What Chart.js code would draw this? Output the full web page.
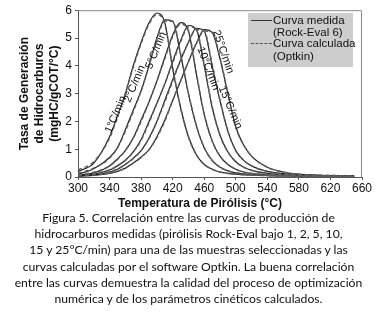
<!DOCTYPE html>
<html>
<head>
<meta charset="utf-8">
<script src="https://cdn.jsdelivr.net/npm/chart.js@4.4.0/dist/chart.umd.min.js"></script>
<style>
  body { margin: 0; background: #fff; width: 377px; height: 318px; overflow: hidden; position: relative; font-family: "Liberation Sans", Arial, sans-serif; }
  #wrap { position: absolute; left: 0; top: 0; width: 377px; height: 212px; }
  #legend { position: absolute; left: 248px; top: 13px; width: 105px; height: 54px; background: #cdcdcd; font-size: 11.5px; color: #111; }
  #legend .row { position: absolute; left: 25px; line-height: 13px; white-space: nowrap; }
  #legend .smp { position: absolute; left: 3px; width: 21px; height: 0; }
  #xtitle { position: absolute; left: 100px; width: 200px; top: 196px; text-align: center; font-weight: bold; font-size: 12px; color: #111; }
  #caption { position: absolute; left: 0; top: 210px; width: 377px; text-align: center; font-family: Lato, "Noto Sans", sans-serif; font-size: 12.2px; line-height: 16.2px; color: #111; }
</style>
</head>
<body>
<div id="wrap"><canvas id="chart" width="377" height="212"></canvas></div>
<div id="legend">
  <div class="smp" style="top:7px;border-top:1.5px solid #333"></div>
  <div class="row" style="top:1px">Curva medida</div>
  <div class="row" style="top:13px">(Rock-Eval 6)</div>
  <div class="smp" style="top:30px;border-top:1.5px dashed #555"></div>
  <div class="row" style="top:24px">Curva calculada</div>
  <div class="row" style="top:37px">(Optkin)</div>
</div>
<div id="xtitle">Temperatura de Pirólisis (°C)</div>
<div id="caption">Figura 5. Correlación entre las curvas de producción de<br>hidrocarburos medidas (pirólisis Rock-Eval bajo 1, 2, 5, 10,<br>15 y 25°C/min) para una de las muestras seleccionadas y las<br>curvas calculadas por el software Optkin. La buena correlación<br>entre las curvas demuestra la calidad del proceso de optimización<br>numérica y de los parámetros cinéticos calculados.</div>
<script>
// temperatures (°C) shared by every curve
const temps = [300, 320, 340, 350, 360, 370, 380, 390, 400, 410, 420, 430, 440, 450, 460, 470, 480, 490, 500, 510, 520, 540, 560, 580, 600, 625, 650];

// heating rates
const rates = ['1°C/min', '2°C/min', '5°C/min', '10°C/min', '15°C/min', '25°C/min'];

// measured curves (Rock-Eval 6), mgHC/gCOT/°C
const med1  = [0.20, 0.50, 1.45, 2.20, 3.00, 4.00, 4.85, 5.55, 5.90, 5.55, 3.90, 2.50, 1.45, 0.80, 0.45, 0.28, 0.18, 0.13, 0.10, 0.08, 0.07, 0.05, 0.04, 0.03, 0.03, 0.02, 0.02];
const med2  = [0.10, 0.30, 0.70, 1.05, 1.70, 2.40, 3.10, 4.00, 5.00, 5.65, 5.60, 4.40, 3.00, 1.85, 1.05, 0.60, 0.35, 0.22, 0.15, 0.11, 0.09, 0.06, 0.05, 0.04, 0.03, 0.03, 0.02];
const med5  = [0.06, 0.15, 0.40, 0.65, 0.95, 1.40, 2.05, 2.70, 3.45, 4.30, 5.10, 5.55, 5.25, 3.70, 2.25, 1.30, 0.75, 0.45, 0.28, 0.18, 0.13, 0.08, 0.06, 0.05, 0.04, 0.03, 0.03];
const med10 = [0.05, 0.10, 0.25, 0.40, 0.60, 0.90, 1.35, 2.00, 2.65, 3.35, 4.15, 4.90, 5.45, 5.30, 4.00, 2.50, 1.50, 0.90, 0.55, 0.35, 0.24, 0.13, 0.08, 0.06, 0.05, 0.04, 0.03];
const med15 = [0.04, 0.08, 0.18, 0.28, 0.45, 0.68, 0.95, 1.40, 2.00, 2.75, 3.50, 4.20, 4.85, 5.35, 5.25, 4.00, 2.75, 1.65, 0.95, 0.60, 0.40, 0.20, 0.12, 0.08, 0.06, 0.05, 0.04];
const med25 = [0.03, 0.06, 0.13, 0.20, 0.32, 0.50, 0.72, 0.98, 1.45, 2.05, 2.75, 3.45, 4.15, 4.80, 5.30, 5.20, 4.25, 3.00, 1.80, 1.15, 0.75, 0.35, 0.18, 0.10, 0.07, 0.05, 0.04];

// calculated curves (Optkin)
const cal1  = [0.25, 0.55, 1.40, 2.15, 3.00, 3.95, 4.80, 5.50, 5.85, 5.50, 3.95, 2.50, 1.45, 0.80, 0.45, 0.28, 0.18, 0.13, 0.10, 0.08, 0.07, 0.05, 0.04, 0.03, 0.03, 0.02, 0.02];
const cal2  = [0.13, 0.32, 0.68, 1.05, 1.65, 2.35, 3.10, 4.00, 4.95, 5.60, 5.60, 4.45, 3.00, 1.85, 1.05, 0.60, 0.35, 0.22, 0.15, 0.11, 0.09, 0.06, 0.05, 0.04, 0.03, 0.03, 0.02];
const cal5  = [0.08, 0.17, 0.40, 0.63, 0.95, 1.40, 2.00, 2.70, 3.45, 4.25, 5.05, 5.50, 5.25, 3.75, 2.25, 1.30, 0.75, 0.45, 0.28, 0.18, 0.13, 0.08, 0.06, 0.05, 0.04, 0.03, 0.03];
const cal10 = [0.06, 0.12, 0.26, 0.40, 0.60, 0.90, 1.32, 1.95, 2.65, 3.35, 4.10, 4.85, 5.40, 5.30, 4.05, 2.55, 1.50, 0.90, 0.55, 0.35, 0.24, 0.13, 0.08, 0.06, 0.05, 0.04, 0.03];
const cal15 = [0.05, 0.09, 0.19, 0.29, 0.45, 0.66, 0.95, 1.38, 2.00, 2.70, 3.45, 4.20, 4.85, 5.30, 5.25, 4.05, 2.75, 1.65, 0.95, 0.60, 0.40, 0.20, 0.12, 0.08, 0.06, 0.05, 0.04];
const cal25 = [0.04, 0.07, 0.14, 0.21, 0.32, 0.50, 0.70, 0.98, 1.42, 2.00, 2.75, 3.45, 4.15, 4.80, 5.25, 5.20, 4.30, 3.00, 1.80, 1.15, 0.75, 0.35, 0.18, 0.10, 0.07, 0.05, 0.04];

// where each rate label sits along its curve: [temperature, value, angle in degrees]
const labelSpots = [[348, 2.25, -67], [372, 3.35, -67], [399, 4.55, -68], [465, 3.9, 69], [493, 2.5, 67], [484, 4.5, 71]];

const medidas = [med1, med2, med5, med10, med15, med25];
const calculadas = [cal1, cal2, cal5, cal10, cal15, cal25];

const toPts = (vals) => vals.map((v, i) => ({ x: temps[i], y: v }));

const datasets = [];
calculadas.forEach((c, i) => {
  datasets.push({ label: 'calc ' + rates[i], data: toPts(c), borderColor: '#5e5e5e', borderWidth: 1.5, borderDash: [4, 3], pointRadius: 0, tension: 0.4, cubicInterpolationMode: 'monotone', order: 0 });
});
medidas.forEach((m, i) => {
  datasets.push({ label: 'med ' + rates[i], data: toPts(m), borderColor: '#222', borderWidth: 1.2, pointRadius: 0, tension: 0.4, cubicInterpolationMode: 'monotone', order: 1 });
});

const frame = {
  id: 'frame',
  afterDraw(chart) {
    const { ctx, chartArea: a, scales } = chart;
    ctx.save();
    ctx.strokeStyle = '#8a8a8a';
    ctx.lineWidth = 1;
    ctx.beginPath();
    ctx.moveTo(a.left, a.top + 0.5);
    ctx.lineTo(a.right - 0.5, a.top + 0.5);
    ctx.lineTo(a.right - 0.5, a.bottom);
    ctx.stroke();
    // rate labels
    ctx.fillStyle = '#111';
    ctx.font = '11px "Liberation Sans", Arial, sans-serif';
    ctx.textAlign = 'center';
    ctx.textBaseline = 'middle';
    labelSpots.forEach((s, i) => {
      ctx.save();
      ctx.translate(scales.x.getPixelForValue(s[0]), scales.y.getPixelForValue(s[1]));
      ctx.rotate(s[2] * Math.PI / 180);
      ctx.fillText(rates[i], 0, 0);
      ctx.restore();
    });
    ctx.restore();
  }
};

new Chart(document.getElementById('chart'), {
  type: 'line',
  data: { datasets },
  plugins: [frame],
  options: {
    responsive: false,
    animation: false,
    devicePixelRatio: 1,
    layout: { padding: { left: 0, right: 15, top: 5, bottom: 0 } },
    plugins: { legend: { display: false }, tooltip: { enabled: false } },
    scales: {
      x: {
        type: 'linear', min: 300, max: 660,
        afterFit: (s) => { s.height = 35; },
        ticks: { stepSize: 40, color: '#111', font: { size: 12, family: '"Liberation Sans", Arial, sans-serif' }, maxRotation: 0, padding: 1 },
        grid: { drawOnChartArea: false, tickLength: 3, color: '#555' },
        border: { color: '#555' }
      },
      y: {
        min: 0, max: 6,
        afterFit: (s) => { s.width = 78; },
        ticks: { stepSize: 1, color: '#111', font: { size: 12, family: '"Liberation Sans", Arial, sans-serif' }, padding: 3 },
        grid: { drawOnChartArea: false, tickLength: 3, color: '#555' },
        border: { color: '#555' },
        title: {
          display: true,
          text: ['Tasa de Generación', 'de Hidrocarburos', '(mgHC/gCOT/°C)'],
          color: '#111',
          font: { size: 12, weight: 'bold', family: '"Liberation Sans", Arial, sans-serif', lineHeight: 1.25 },
          padding: { top: 17, bottom: 0 }
        }
      }
    }
  }
});
</script>
</body>
</html>
